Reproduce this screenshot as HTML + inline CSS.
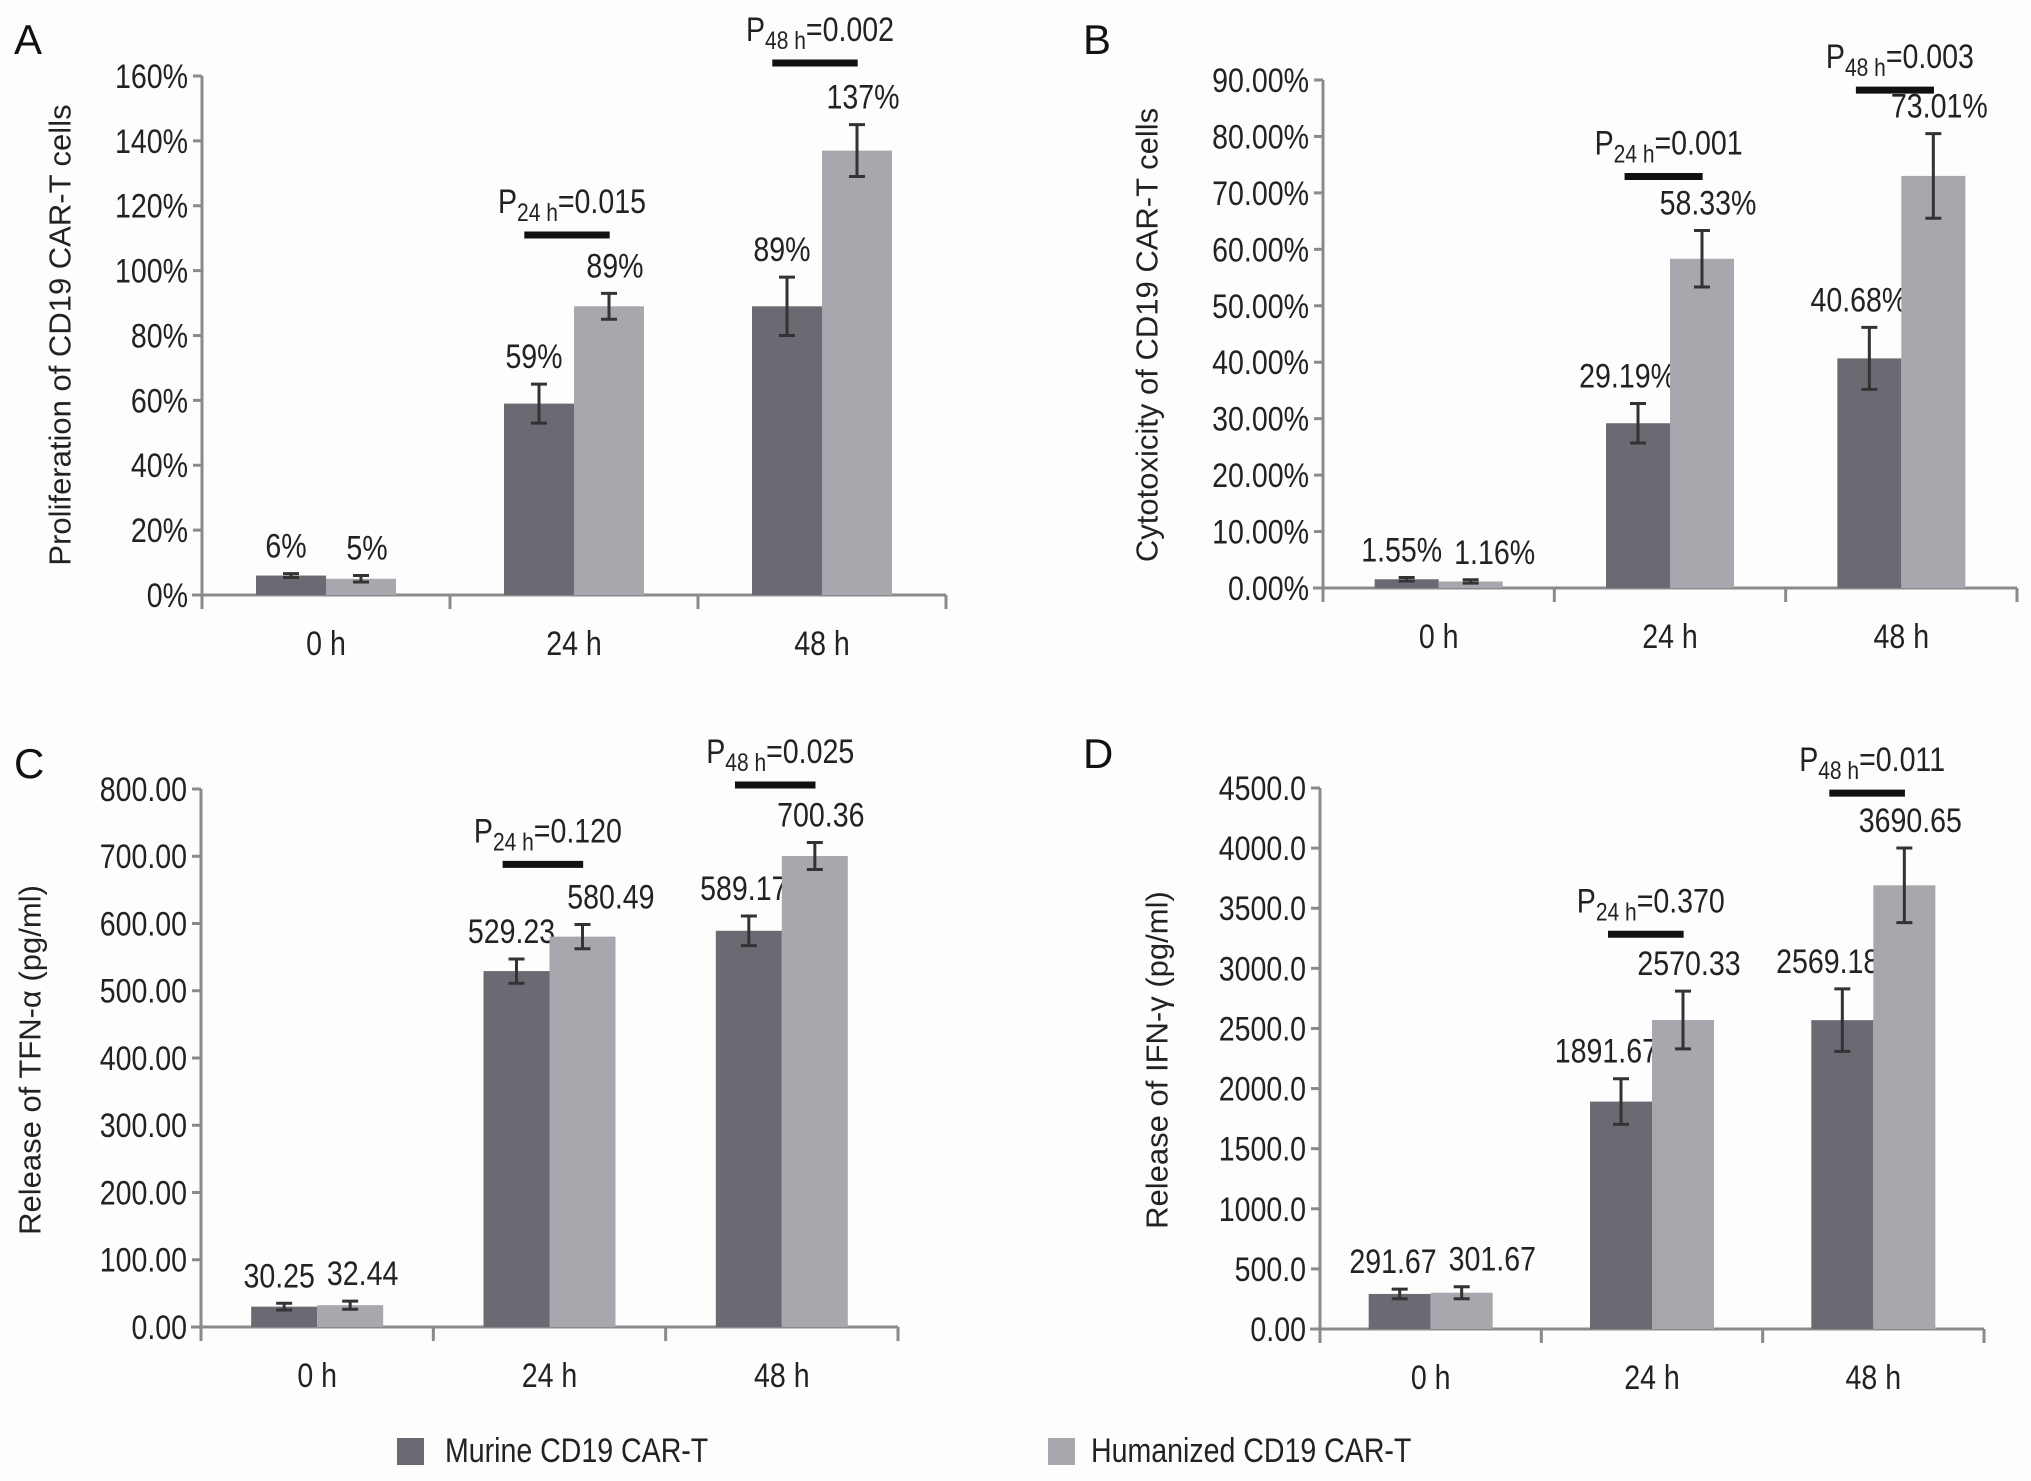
<!DOCTYPE html>
<html><head><meta charset="utf-8"><style>
html,body{margin:0;padding:0;background:#fff;overflow:hidden;}
svg{display:block;font-family:"Liberation Sans",Arial,sans-serif;}
svg text.cond{transform-box:fill-box;}
</style></head><body>
<svg id="fig" width="2031" height="1481" viewBox="0 0 2031 1481">
<rect width="2031" height="1481" fill="#fdfdfd"/>
<g id="content"></g>
<g>
<rect x="397" y="1438" width="27" height="27" fill="#6b6a72"/>
<text class="cond" x="445" y="1462" font-size="34" fill="#222">Murine CD19 CAR-T</text>
<rect x="1048" y="1438" width="27" height="27" fill="#a7a7ad"/>
<text class="cond" x="1091" y="1462" font-size="34" fill="#222">Humanized CD19 CAR-T</text>
</g>
</svg>
<script>
const categories = ["0 h","24 h","48 h"];
// Panel A
const aMurine = [6,59,89];
const aHuman = [5,89,137];
const aMurineErr = [0.6,6,9];
const aHumanErr = [1,4,8];
const aMurineLabels = ["6%","59%","89%"];
const aHumanLabels = ["5%","89%","137%"];
const aTicks = [0,20,40,60,80,100,120,140,160];
const aTickLabels = ["0%","20%","40%","60%","80%","100%","120%","140%","160%"];
const aPvals = ["0.015","0.002"];
const aPlevel = [111,164];
// Panel B
const bMurine = [1.55,29.19,40.68];
const bHuman = [1.16,58.33,73.01];
const bMurineErr = [0.3,3.5,5.5];
const bHumanErr = [0.3,5,7.5];
const bMurineLabels = ["1.55%","29.19%","40.68%"];
const bHumanLabels = ["1.16%","58.33%","73.01%"];
const bTicks = [0,10,20,30,40,50,60,70,80,90];
const bTickLabels = ["0.00%","10.00%","20.00%","30.00%","40.00%","50.00%","60.00%","70.00%","80.00%","90.00%"];
const bPvals = ["0.001","0.003"];
const bPlevel = [72.9,88.2];
// Panel C
const cMurine = [30.25,529.23,589.17];
const cHuman = [32.44,580.49,700.36];
const cMurineErr = [5,18,22];
const cHumanErr = [6,18,20];
const cMurineLabels = ["30.25","529.23","589.17"];
const cHumanLabels = ["32.44","580.49","700.36"];
const cTicks = [0,100,200,300,400,500,600,700,800];
const cTickLabels = ["0.00","100.00","200.00","300.00","400.00","500.00","600.00","700.00","800.00"];
const cPvals = ["0.120","0.025"];
const cPlevel = [688,806];
// Panel D
const dMurine = [291.67,1891.67,2569.18];
const dHuman = [301.67,2570.33,3690.65];
const dMurineErr = [40,190,260];
const dHumanErr = [50,240,310];
const dMurineLabels = ["291.67","1891.67","2569.18"];
const dHumanLabels = ["301.67","2570.33","3690.65"];
const dTicks = [0,500,1000,1500,2000,2500,3000,3500,4000,4500];
const dTickLabels = ["0.00","500.0","1000.0","1500.0","2000.0","2500.0","3000.0","3500.0","4000.0","4500.0"];
const dPvals = ["0.370","0.011"];
const dPlevel = [3283,4457];

const NS="http://www.w3.org/2000/svg";
const root=document.getElementById('content');
const SX=0.84;
function mk(tag,attrs,parent){const e=document.createElementNS(NS,tag);for(const k in attrs)e.setAttribute(k,attrs[k]);(parent||root).appendChild(e);return e;}

const panels=[
 {id:'a',letter:'A',lx:14,ly:54,x0:202,x1:946,y0:595,y1:76,max:160,bw:70,title:'Proliferation of CD19 CAR-T cells',tx:60,ty:335,
  m:aMurine,h:aHuman,me:aMurineErr,he:aHumanErr,ml:aMurineLabels,hl:aHumanLabels,ticks:aTicks,tl:aTickLabels,pv:aPvals,pl:aPlevel},
 {id:'b',letter:'B',lx:1083,ly:54,x0:1323,x1:2017,y0:588,y1:80,max:90,bw:64,title:'Cytotoxicity of CD19 CAR-T cells',tx:1147,ty:335,
  m:bMurine,h:bHuman,me:bMurineErr,he:bHumanErr,ml:bMurineLabels,hl:bHumanLabels,ticks:bTicks,tl:bTickLabels,pv:bPvals,pl:bPlevel},
 {id:'c',letter:'C',lx:14,ly:778,x0:201,x1:898,y0:1327,y1:789,max:800,bw:66,title:'Release of TFN-\u03b1 (pg/ml)',tx:30,ty:1060,
  m:cMurine,h:cHuman,me:cMurineErr,he:cHumanErr,ml:cMurineLabels,hl:cHumanLabels,ticks:cTicks,tl:cTickLabels,pv:cPvals,pl:cPlevel},
 {id:'d',letter:'D',lx:1083,ly:768,x0:1320,x1:1984,y0:1329,y1:788,max:4500,bw:62,title:'Release of IFN-\u03b3 (pg/ml)',tx:1157,ty:1060,
  m:dMurine,h:dHuman,me:dMurineErr,he:dHumanErr,ml:dMurineLabels,hl:dHumanLabels,ticks:dTicks,tl:dTickLabels,pv:dPvals,pl:dPlevel}
];

panels.forEach(p=>{
 const g=mk('g',{});
 
 
 const y=v=>p.y0-(v/p.max)*(p.y0-p.y1);
 const cw=(p.x1-p.x0)/categories.length;
 const cx=i=>p.x0+cw*(i+0.5);
 const L=mk('text',{x:p.lx,y:p.ly,'font-size':42,fill:'#111'},g);L.textContent=p.letter;
 
 
 const T=mk('text',{x:p.tx,y:p.ty,'font-size':31,fill:'#222','text-anchor':'middle','dominant-baseline':'central',transform:`rotate(-90 ${p.tx} ${p.ty})`},g);T.textContent=p.title;
 
 
 const ax=mk('line',{x1:p.x0,y1:y(0)+14,x2:p.x0,y2:p.y1,stroke:'#8a8a8a','stroke-width':3},g);
 
 
 const xx=mk('line',{x1:p.x0-10,y1:y(0),x2:p.x1,y2:y(0),stroke:'#8a8a8a','stroke-width':3},g);
 
 
 p.ticks.forEach((t,i)=>{
  mk('line',{x1:p.x0-9,y1:y(t),x2:p.x0,y2:y(t),stroke:'#8a8a8a','stroke-width':3},g);
  const tt=mk('text',{x:p.x0-14,y:y(t)+12,'font-size':34,fill:'#222','text-anchor':'end','class':'cond'},g);tt.textContent=p.tl[i];
  
  
 });
 for(let i=1;i<=categories.length;i++){
  const xs=p.x0+cw*i;
  mk('line',{x1:xs,y1:y(0),x2:xs,y2:y(0)+14,stroke:'#8a8a8a','stroke-width':3},g);
 }
 categories.forEach((c,i)=>{
  const ct=mk('text',{x:cx(i),y:y(0)+60,'font-size':34,fill:'#222','text-anchor':'middle','class':'cond'},g);ct.textContent=c;
  
  
  const series=[[p.m,p.me,p.ml,'#6b6a72',-1,'murine'],[p.h,p.he,p.hl,'#a7a7ad',0,'humanized']];
  let leftRight=-1e9,leftY=-1e9;
  series.forEach(s=>{
   const v=s[0][i],e=s[1][i];
   const bx=cx(i)+s[4]*p.bw;
   const r=mk('rect',{x:bx,y:y(v),width:p.bw,height:y(0)-y(v),fill:s[3]},g);
   
   
   const mx=bx+p.bw/2;
   const eb=mk('path',{d:`M${mx} ${y(v+e)}V${y(v-e)}M${mx-8} ${y(v+e)}H${mx+8}M${mx-8} ${y(v-e)}H${mx+8}`,stroke:'#333','stroke-width':3,fill:'none'},g);
   
   
   const ly=y(v+e)-16;
   const lb=mk('text',{x:mx,y:ly,'font-size':34,fill:'#222','text-anchor':'middle','class':'cond'},g);lb.textContent=s[2][i];
   
   
   const w=lb.getComputedTextLength()*SX;
   let lx;
   if(s[4]<0){
     lx=mx-5;
     if(lx+w/2>bx+p.bw+6) lx=bx+p.bw+6-w/2;
     leftRight=lx+w/2;leftY=ly;
   }else{
     lx=mx+6;
     if(Math.abs(ly-leftY)<36 && lx-w/2<leftRight+12) lx=leftRight+12+w/2;
   }
   lb.setAttribute('x',lx);
  });
 });
 p.pv.forEach((pv,k)=>{
  const i=k+1;const c=cx(i)-0.1*p.bw;const hw=0.61*p.bw;const py=y(p.pl[k]);
  const pb=mk('line',{x1:c-hw,y1:py,x2:c+hw,y2:py,stroke:'#111','stroke-width':7},g);
  
  
  const pt=mk('text',{x:c+5,y:py-22,'font-size':34,fill:'#222','text-anchor':'middle','class':'cond'},g);
  
  
  const t1=mk('tspan',{},pt);t1.textContent='P';
  const t2=mk('tspan',{'font-size':25,dy:8},pt);t2.textContent=categories[i];
  const t3=mk('tspan',{dy:-8},pt);t3.textContent='='+pv;
 });
});
document.querySelectorAll('text.cond').forEach(t=>{
 const a=t.getAttribute('text-anchor')||'start';
 const o=a==='end'?'right':(a==='middle'?'center':'left');
 t.style.transformOrigin=o+' center';
 t.style.transform='scaleX('+SX+')';
});
</script>
</body></html>
